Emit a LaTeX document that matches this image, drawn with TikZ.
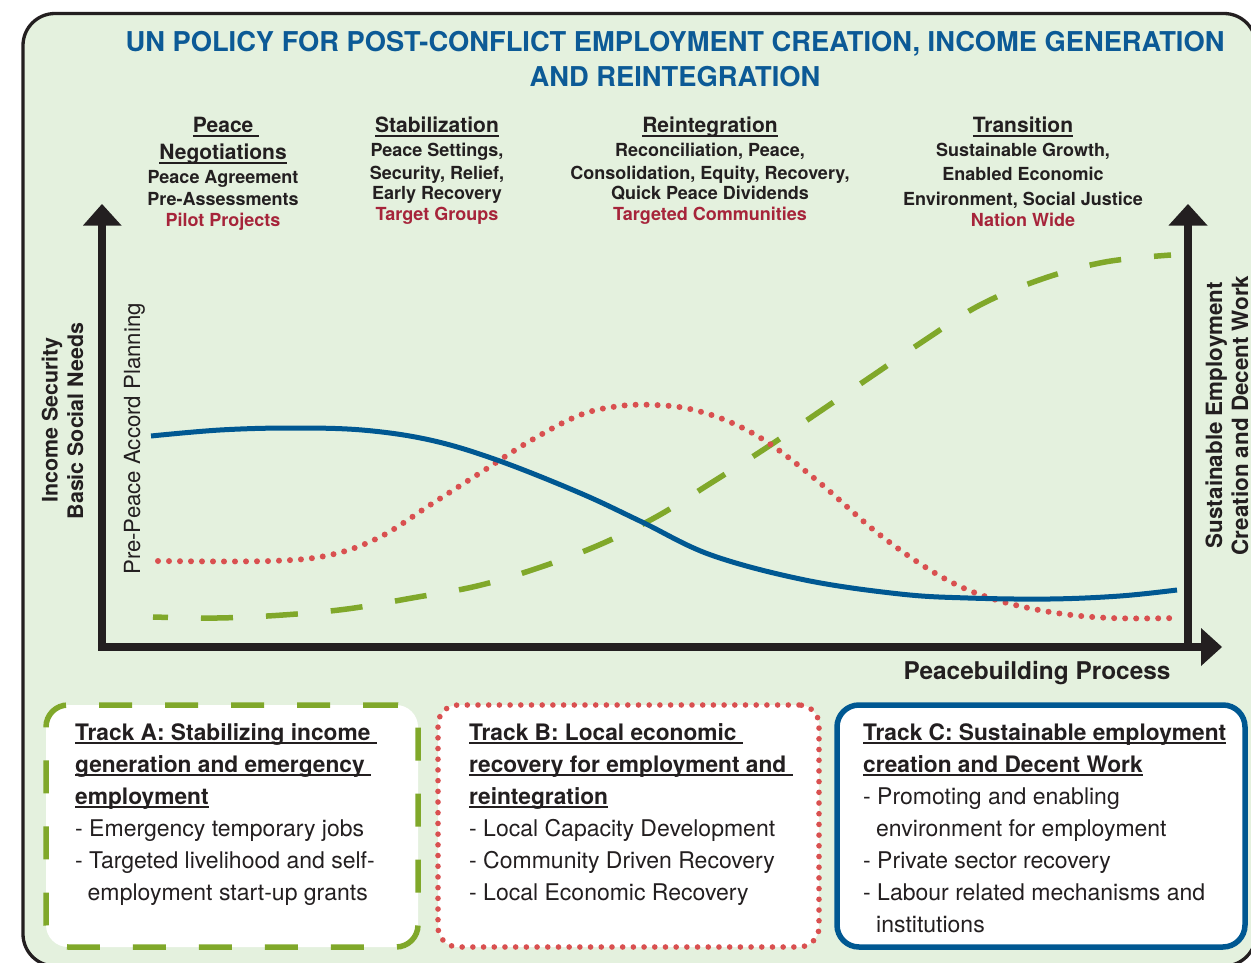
\documentclass[tikz,border=0pt]{standalone}
\usepackage{fontspec}
\setmainfont{TeX Gyre Heros}
\definecolor{bg}{RGB}{228,241,222}
\definecolor{ink}{RGB}{35,31,32}
\definecolor{ttl}{RGB}{12,90,150}
\definecolor{crim}{RGB}{166,36,58}
\definecolor{dotred}{RGB}{217,80,80}
\definecolor{lgreen}{RGB}{128,168,42}
\definecolor{dblue}{RGB}{0,88,146}
\newcommand\fs[1]{\fontsize{#1}{#1}\selectfont}
\newcommand\ulx[1]{\setbox0=\hbox{#1}\rlap{\rule[-3.6pt]{\wd0}{1.8pt}}\box0}
\tikzset{
  txt/.style={inner sep=0pt, text=ink},
  ttlline/.style={txt, anchor=base, text=ttl, font=\bfseries\fs{27.3}},
  phhead/.style={txt, anchor=base, font=\bfseries\fs{21}},
  phbody/.style={txt, anchor=base, font=\bfseries\fs{18}},
  phred/.style={txt, anchor=base, text=crim, font=\bfseries\fs{18}},
  axlab/.style={txt, anchor=base, rotate=90},
  boxtitle/.style={txt, anchor=base west, font=\bfseries\fs{22.7}},
  boxitem/.style={txt, anchor=base west, font=\fs{23}},
  trackbox/.style={rectangle, fill=white, inner sep=0pt},
  axisline/.style={ink, line width=7.5pt},
  tip/.style={fill=ink},
}
\begin{document}
\begin{tikzpicture}[x=1pt,y=-1pt]
\useasboundingbox (0,0) rectangle (1251,963);
\clip (0,0) rectangle (1251,963);
\fill[white] (0,0) rectangle (1251,963);
\draw[ink, line width=3.3pt, fill=bg, rounded corners=32pt] (23,13.5) rectangle (1256,966);

% title
\node[ttlline] (title1) at (675,52) {UN POLICY FOR POST-CONFLICT EMPLOYMENT CREATION, INCOME GENERATION};
\node[ttlline] (title2) at (675,87) {AND REINTEGRATION};

% phase headers
\node[phhead] (p1h1) at (226,133) {\ulx{Peace\ }};
\node[phhead] (p1h2) at (223,160) {\ulx{Negotiations}};
\node[phbody] (p1a) at (223,184) {Peace Agreement};
\node[phbody] (p1b) at (223,205) {Pre-Assessments};
\node[phred] (p1c) at (223,226) {Pilot Projects};

\node[phhead] (p2h) at (437,133) {\ulx{Stabilization}};
\node[phbody] (p2a) at (437,157) {Peace Settings,};
\node[phbody] (p2b) at (437,179) {Security, Relief,};
\node[phbody] (p2c) at (437,200) {Early Recovery};
\node[phred] (p2d) at (437,221) {Target Groups};

\node[phhead] (p3h) at (710,133) {\ulx{Reintegration}};
\node[phbody] (p3a) at (710,157) {Reconciliation, Peace,};
\node[phbody] (p3b) at (710,179) {Consolidation, Equity, Recovery,};
\node[phbody] (p3c) at (710,200) {Quick Peace Dividends};
\node[phred] (p3d) at (710,221) {Targeted Communities};

\node[phhead] (p4h) at (1023,133) {\ulx{Transition}};
\node[phbody] (p4a) at (1023,157) {Sustainable Growth,};
\node[phbody] (p4b) at (1023,181) {Enabled Economic};
\node[phbody] (p4c) at (1023,205) {Environment, Social Justice};
\node[phred] (p4d) at (1023,226) {Nation Wide};

% axis labels
\node[axlab, font=\bfseries\fs{21.4}] (yl1) at (57.5,420) {Income Security};
\node[axlab, font=\bfseries\fs{21.4}] (yl2) at (83,421) {Basic Social Needs};
\node[axlab, font=\fs{22.2}] (pre) at (140,439) {Pre-Peace Accord Planning};
\node[axlab, font=\bfseries\fs{22.4}] (yr1) at (1222,415) {Sustainable Employment};
\node[axlab, font=\bfseries\fs{22.4}] (yr2) at (1248,415.5) {Creation and Decent Work};
\node[txt, anchor=base, font=\bfseries\fs{24.4}] (xl) at (1037,679) {Peacebuilding Process};

% curves
\draw[lgreen, line width=5.5pt, dash pattern=on 32pt off 33pt, dash phase=17pt]
  plot[smooth, tension=0.6] coordinates {(153,617) (217,618) (283,615) (347,609) (412,598) (477,586) (538,568) (599,545) (656,517) (711,483) (766,448) (819,412) (872,376) (925,340) (980,305) (1042,279) (1105,262) (1171,255)};
\draw[dotred, line width=6pt, dash pattern=on 0pt off 11pt, line cap=round]
  plot[smooth, tension=0.6] coordinates {(158,561) (270,561) (330,555) (380,537) (430,505) (480,473) (530,441) (580,415) (620,406) (655,405) (690,409) (730,422) (770,444) (820,483) (880,535) (940,576) (990,598) (1050,612) (1110,618) (1178,618)};
\draw[dblue, line width=5pt]
  plot[smooth, tension=0.6] coordinates {(151,436) (220,430) (290,428) (362,430) (430,440) (497,460) (580,493) (642,522) (711,555) (805,580) (900,594) (968,598) (1050,599) (1120,596) (1177,590)};

% axes
\draw[axisline, line join=miter] (102,222) -- (102,647) -- (1203,647);
\draw[axisline] (1188,222) -- (1188,647);
\fill[tip] (102,204) -- (83,225.5) -- (121.5,225.5) -- cycle;
\fill[tip] (1188,204) -- (1168.5,225.5) -- (1207.5,225.5) -- cycle;
\fill[tip] (1222,647) -- (1201,628) -- (1201,666) -- cycle;

% track boxes
\node[trackbox, draw=lgreen, line width=5.5pt, dash pattern=on 33pt off 33pt, rounded corners=22pt, minimum width=372pt, minimum height=242pt] (trackA) at (232,826) {};
\node[trackbox, draw=dotred, line width=5.6pt, dash pattern=on 0pt off 10.7pt, line cap=round, rounded corners=20pt, minimum width=381pt, minimum height=242pt] (trackB) at (628.5,826) {};
\node[trackbox, draw=dblue, line width=5.5pt, rounded corners=22pt, minimum width=408pt, minimum height=242pt] (trackC) at (1041,826) {};

% track A text
\node[boxtitle] (a1) at (75,740) {\ulx{Track A: Stabilizing income\ }};
\node[boxtitle] (a2) at (75,772) {\ulx{generation and emergency\ }};
\node[boxtitle] (a3) at (75,804) {\ulx{employment}};
\node[boxitem] (a4) at (75,836) {- Emergency temporary jobs};
\node[boxitem] (a5) at (75,868) {- Targeted livelihood and self-};
\node[boxitem] (a6) at (87.5,900) {employment start-up grants};

% track B text
\node[boxtitle] (b1) at (469,740) {\ulx{Track B: Local economic\ }};
\node[boxtitle] (b2) at (469,772) {\ulx{recovery for employment and\ }};
\node[boxtitle] (b3) at (469,804) {\ulx{reintegration}};
\node[boxitem] (b4) at (469,836) {- Local Capacity Development};
\node[boxitem] (b5) at (469,868) {- Community Driven Recovery};
\node[boxitem] (b6) at (469,900) {- Local Economic Recovery};

% track C text
\node[boxtitle] (c1) at (863,740) {\ulx{Track C: Sustainable employment}};
\node[boxtitle] (c2) at (863,772) {\ulx{creation and Decent Work}};
\node[boxitem] (c3) at (863,804) {- Promoting and enabling};
\node[boxitem] (c4) at (876,836) {environment for employment};
\node[boxitem] (c5) at (863,868) {- Private sector recovery};
\node[boxitem] (c6) at (863,900) {- Labour related mechanisms and};
\node[boxitem] (c7) at (876,932) {institutions};
\end{tikzpicture}
\end{document}
